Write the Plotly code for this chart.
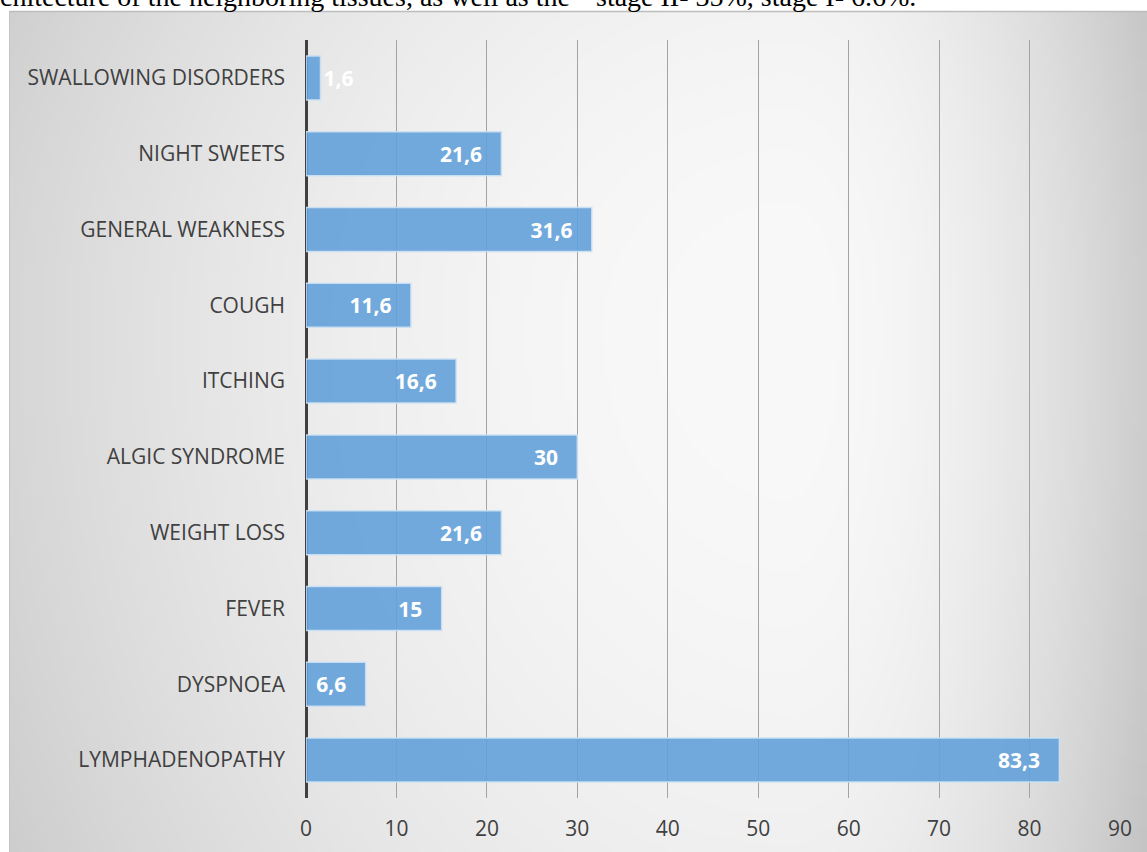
import base64, struct, zlib
import numpy as np
import plotly.graph_objects as go

# ---- data (top to bottom as in the chart) ----
categories = ["SWALLOWING DISORDERS", "NIGHT SWEETS", "GENERAL WEAKNESS", "COUGH",
              "ITCHING", "ALGIC SYNDROME", "WEIGHT LOSS", "FEVER", "DYSPNOEA",
              "LYMPHADENOPATHY"]
values = [1.6, 21.6, 31.6, 11.6, 16.6, 30, 21.6, 15, 6.6, 83.3]
tick_values = [0, 10, 20, 30, 40, 50, 60, 70, 80, 90]
labels = [f"{v:g}".replace(".", ",") for v in values]

W, H = 1147, 852
L, R, T, B = 306, 27, 40, 54
PW, PH = W - L - R, H - T - B

# ---- background radial gradient image ----
S = 4
x0, y0 = 9, 11
iw, ih = (W - x0) // S + 1, (H - y0) // S + 1
jj, ii = np.meshgrid(np.arange(iw), np.arange(ih))
px = x0 + jj * S + S / 2
py = y0 + ii * S + S / 2
cx, cy = 790.0, 330.0
dx = px - cx
dy = py - cy
rx = np.where(dx < 0, 839.0, 342.0)
ry = np.where(dy < 0, 815.0, 1096.0)
r2 = (dx / rx) ** 2 + (dy / ry) ** 2
g = np.clip(249 - 40 * r2, 196, 250).astype(np.uint8)


def make_png(arr):
    h, w = arr.shape
    raw = b"".join(b"\x00" + arr[k].tobytes() for k in range(h))

    def chunk(tag, data):
        c = struct.pack(">I", len(data)) + tag + data
        return c + struct.pack(">I", zlib.crc32(tag + data) & 0xFFFFFFFF)

    return (b"\x89PNG\r\n\x1a\n" + chunk(b"IHDR", struct.pack(">IIBBBBB", w, h, 8, 0, 0, 0, 0))
            + chunk(b"IDAT", zlib.compress(raw, 9)) + chunk(b"IEND", b""))


src = "data:image/png;base64," + base64.b64encode(make_png(g)).decode()


def pxx(p):
    return (p - L) / PW


def pxy(p):
    return (H - B - p) / PH


NB = "\u00a0"
FS = 21
fig = go.Figure()
fig.add_trace(go.Bar(
    x=values, y=categories, orientation="h",
    text=[t if v < 5 else t + NB * 3 for t, v in zip(labels, values)],
    textposition=["outside" if v < 5 else "inside" for v in values],
    insidetextanchor="end",
    textfont=dict(family="Open Sans", size=FS, color="white", weight="bold"),
    outsidetextfont=dict(family="Open Sans", size=FS, color="white", weight="bold"),
    marker=dict(color="rgba(100,161,217,0.9)", line=dict(color="rgba(205,225,244,0.9)", width=1.5)),
    cliponaxis=False,
    hoverinfo="x+y",
))

fig.update_layout(
    width=W, height=H,
    margin=dict(l=L, r=R, t=T, b=B, autoexpand=False),
    paper_bgcolor="white",
    plot_bgcolor="rgba(0,0,0,0)",
    bargap=0.42,
    showlegend=False,
    uniformtext=dict(minsize=FS, mode="show"),
    font=dict(family="Open Sans", color="#404040"),
    images=[dict(source=src, xref="paper", yref="paper", x=pxx(x0), y=pxy(y0),
                 sizex=(W - x0) / PW, sizey=(H - y0) / PH, xanchor="left", yanchor="top",
                 sizing="stretch", layer="below")],
    shapes=[
        dict(type="line", xref="paper", yref="paper", x0=pxx(x0), x1=pxx(W), y0=pxy(y0 + 0.5), y1=pxy(y0 + 0.5),
             line=dict(color="#bdbdbd", width=1.5)),
        dict(type="line", xref="paper", yref="paper", x0=pxx(x0 + 0.5), x1=pxx(x0 + 0.5), y0=pxy(y0), y1=pxy(H),
             line=dict(color="#c4c4c4", width=1)),
    ],
    annotations=[
        dict(text="chitecture of the neighboring tissues, as well as the", xref="paper", yref="paper",
             x=pxx(-2), y=pxy(14), xanchor="left", yanchor="bottom", showarrow=False,
             font=dict(family="Liberation Serif", size=28, color="black")),
        dict(text="stage II- 35%, stage I- 6.6%.", xref="paper", yref="paper",
             x=pxx(594), y=pxy(14), xanchor="left", yanchor="bottom", showarrow=False,
             font=dict(family="Liberation Serif", size=28, color="black")),
    ],
)

fig.update_xaxes(
    range=[0, 90], tickvals=tick_values, showgrid=True, gridcolor="#a3a3a3", gridwidth=1,
    zeroline=True, zerolinecolor="#404040", zerolinewidth=3,
    tickfont=dict(family="Open Sans", size=FS, color="#404040"),
    ticklabelstandoff=16, showline=False, fixedrange=True, automargin=False,
)
fig.update_yaxes(
    categoryorder="array", categoryarray=categories, autorange="reversed",
    tickfont=dict(family="Open Sans", size=FS, color="#404040"),
    ticklabelstandoff=20, showgrid=False, fixedrange=True, automargin=False,
)

fig.write_html("out.html")
